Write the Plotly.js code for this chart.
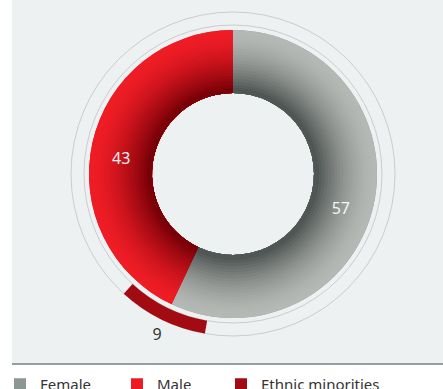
<!DOCTYPE html>
<html>
<head>
<meta charset="utf-8">
<script src="https://cdn.plot.ly/plotly-3.0.1.min.js"></script>
<style>
  html, body { margin: 0; padding: 0; background: #ffffff; }
  #chart { width: 443px; height: 389px; }
</style>
</head>
<body>
<div id="chart"></div>
<script>
// ---- data ----
const genderLabels = ['Female', 'Male'];
const genderValues = [57, 43];
const ethnicLabel = 'Ethnic minorities';
const ethnicValue = 9;

// ---- styles / geometry (pixels) ----
const W = 443, H = 389;
const CX = 233, CY = 174;            // donut centre in page pixels
const R_OUT = 144, R_IN = 81;        // donut radii
const RING_IN = 149, RING_OUT = 162; // thin outer ring
const LABEL9_R = 172;                // anchor of the "9" label (text drawn below it)
const POLAR_R = 174;                 // polar subplot radius in px
const POLAR_RANGE = 174;             // radial axis max (units = px)
const PX = POLAR_RANGE / POLAR_R;
const ETHNIC_START = 190;            // degrees clockwise from 12 o'clock
const FONT = 'Noto Sans, Open Sans, sans-serif';

const legendColors = ['#8c9692', '#ed1c24'];
const ethnicColor = '#a30b13';
const greyOuter = [181, 185, 181], greyInner = [80, 86, 84];
const redOuter = [239, 28, 37], redInner = [122, 0, 8];

function domainFor(r, dx, dy) {
  dx = dx || 0; dy = dy || 0;
  return {
    x: [(CX + dx - r) / W, (CX + dx + r) / W],
    y: [(H - CY - dy - r) / H, (H - CY - dy + r) / H]
  };
}
function mix(a, b, t) {
  return 'rgb(' + a.map((v, i) => Math.round(v + (b[i] - v) * t)).join(',') + ')';
}

const traces = [];

// legend carrier (hidden underneath the gradient layers)
traces.push({
  type: 'pie', labels: genderLabels, values: genderValues, sort: false,
  direction: 'clockwise', rotation: 0, hole: R_IN / R_OUT,
  domain: domainFor(R_OUT), marker: { colors: legendColors },
  textinfo: 'none', hoverinfo: 'skip', showlegend: true, legend: 'legend'
});

// gradient layers: outer (light) to inner (dark)
const N = 20;
for (let k = 0; k < N; k++) {
  const r = R_OUT - k * (R_OUT - R_IN - 2) / N;
  const t = Math.pow(k / (N - 1), 1.6);
  traces.push({
    type: 'pie', labels: genderLabels, values: genderValues, sort: false,
    direction: 'clockwise', rotation: 0, hole: R_IN / r,
    domain: domainFor(r),
    marker: { colors: [mix(greyOuter, greyInner, t), mix(redOuter, redInner, t)], line: { width: 0 } },
    textinfo: 'none', hoverinfo: 'skip', showlegend: false
  });
}

// value labels
traces.push({
  type: 'pie', labels: genderLabels, values: genderValues, sort: false,
  direction: 'clockwise', rotation: 0, hole: R_IN / R_OUT,
  domain: domainFor(R_OUT, -2, 9),
  marker: { colors: ['rgba(0,0,0,0)', 'rgba(0,0,0,0)'] },
  textinfo: 'value', textposition: 'inside', insidetextorientation: 'horizontal',
  textfont: { family: FONT, size: 16, color: '#f4f4f4' },
  hoverinfo: 'label+value', showlegend: false
});

// ethnic minorities outer band
const ethnicWidth = ethnicValue / 100 * 360;
const ethnicCentre = ETHNIC_START + ethnicWidth / 2;
traces.push({
  type: 'barpolar', name: ethnicLabel,
  r: [(RING_OUT - RING_IN) * PX], base: [RING_IN * PX], theta: [ethnicCentre], width: [ethnicWidth],
  marker: { color: ethnicColor, line: { width: 0 } },
  showlegend: true, legend: 'legend2', hoverinfo: 'name'
});
traces.push({
  type: 'scatterpolar', mode: 'text', r: [LABEL9_R * PX], theta: [ethnicCentre],
  text: [String(ethnicValue)], textposition: 'bottom center',
  textfont: { family: FONT, size: 16, color: '#333333' },
  cliponaxis: false, showlegend: false, hoverinfo: 'skip'
});

const pd = domainFor(POLAR_R);
const legendBase = {
  orientation: 'h', xanchor: 'left', y: (H - 368) / H, yanchor: 'top',
  font: { family: FONT, size: 15, color: '#333333' },
  bgcolor: 'rgba(0,0,0,0)', traceorder: 'normal'
};
const layout = {
  width: W, height: H,
  margin: { l: 0, r: 0, t: 0, b: 0, autoexpand: false },
  paper_bgcolor: '#ffffff',
  font: { family: FONT, color: '#333333' },
  showlegend: true,
  legend: Object.assign({}, legendBase, { x: 0, entrywidth: 72, entrywidthmode: 'pixels' }),
  legend2: Object.assign({}, legendBase, { x: 221 / W }),
  polar: {
    domain: { x: [Math.max(0, pd.x[0]), Math.min(1, pd.x[1])], y: [Math.max(0, pd.y[0]), Math.min(1, pd.y[1])] },
    bgcolor: 'rgba(0,0,0,0)',
    radialaxis: {
      range: [0, POLAR_RANGE], tickvals: [RING_IN * PX, RING_OUT * PX], showticklabels: false,
      ticks: '', showline: false, gridcolor: '#c9cdcd', gridwidth: 1
    },
    angularaxis: {
      rotation: 90, direction: 'clockwise', showgrid: false, showline: false,
      showticklabels: false, ticks: ''
    }
  },
  shapes: [
    { type: 'rect', xref: 'paper', yref: 'paper', x0: 12 / W, x1: 1, y0: (H - 363) / H, y1: 1,
      fillcolor: '#edf1f2', line: { width: 0 }, layer: 'below' },
    { type: 'line', xref: 'paper', yref: 'paper', x0: 12 / W, x1: 1, y0: (H - 364) / H, y1: (H - 364) / H,
      line: { color: '#969e9d', width: 2 }, layer: 'below' }
  ]
};

Plotly.newPlot('chart', traces, layout, { displayModeBar: false, staticPlot: true });
</script>
</body>
</html>
